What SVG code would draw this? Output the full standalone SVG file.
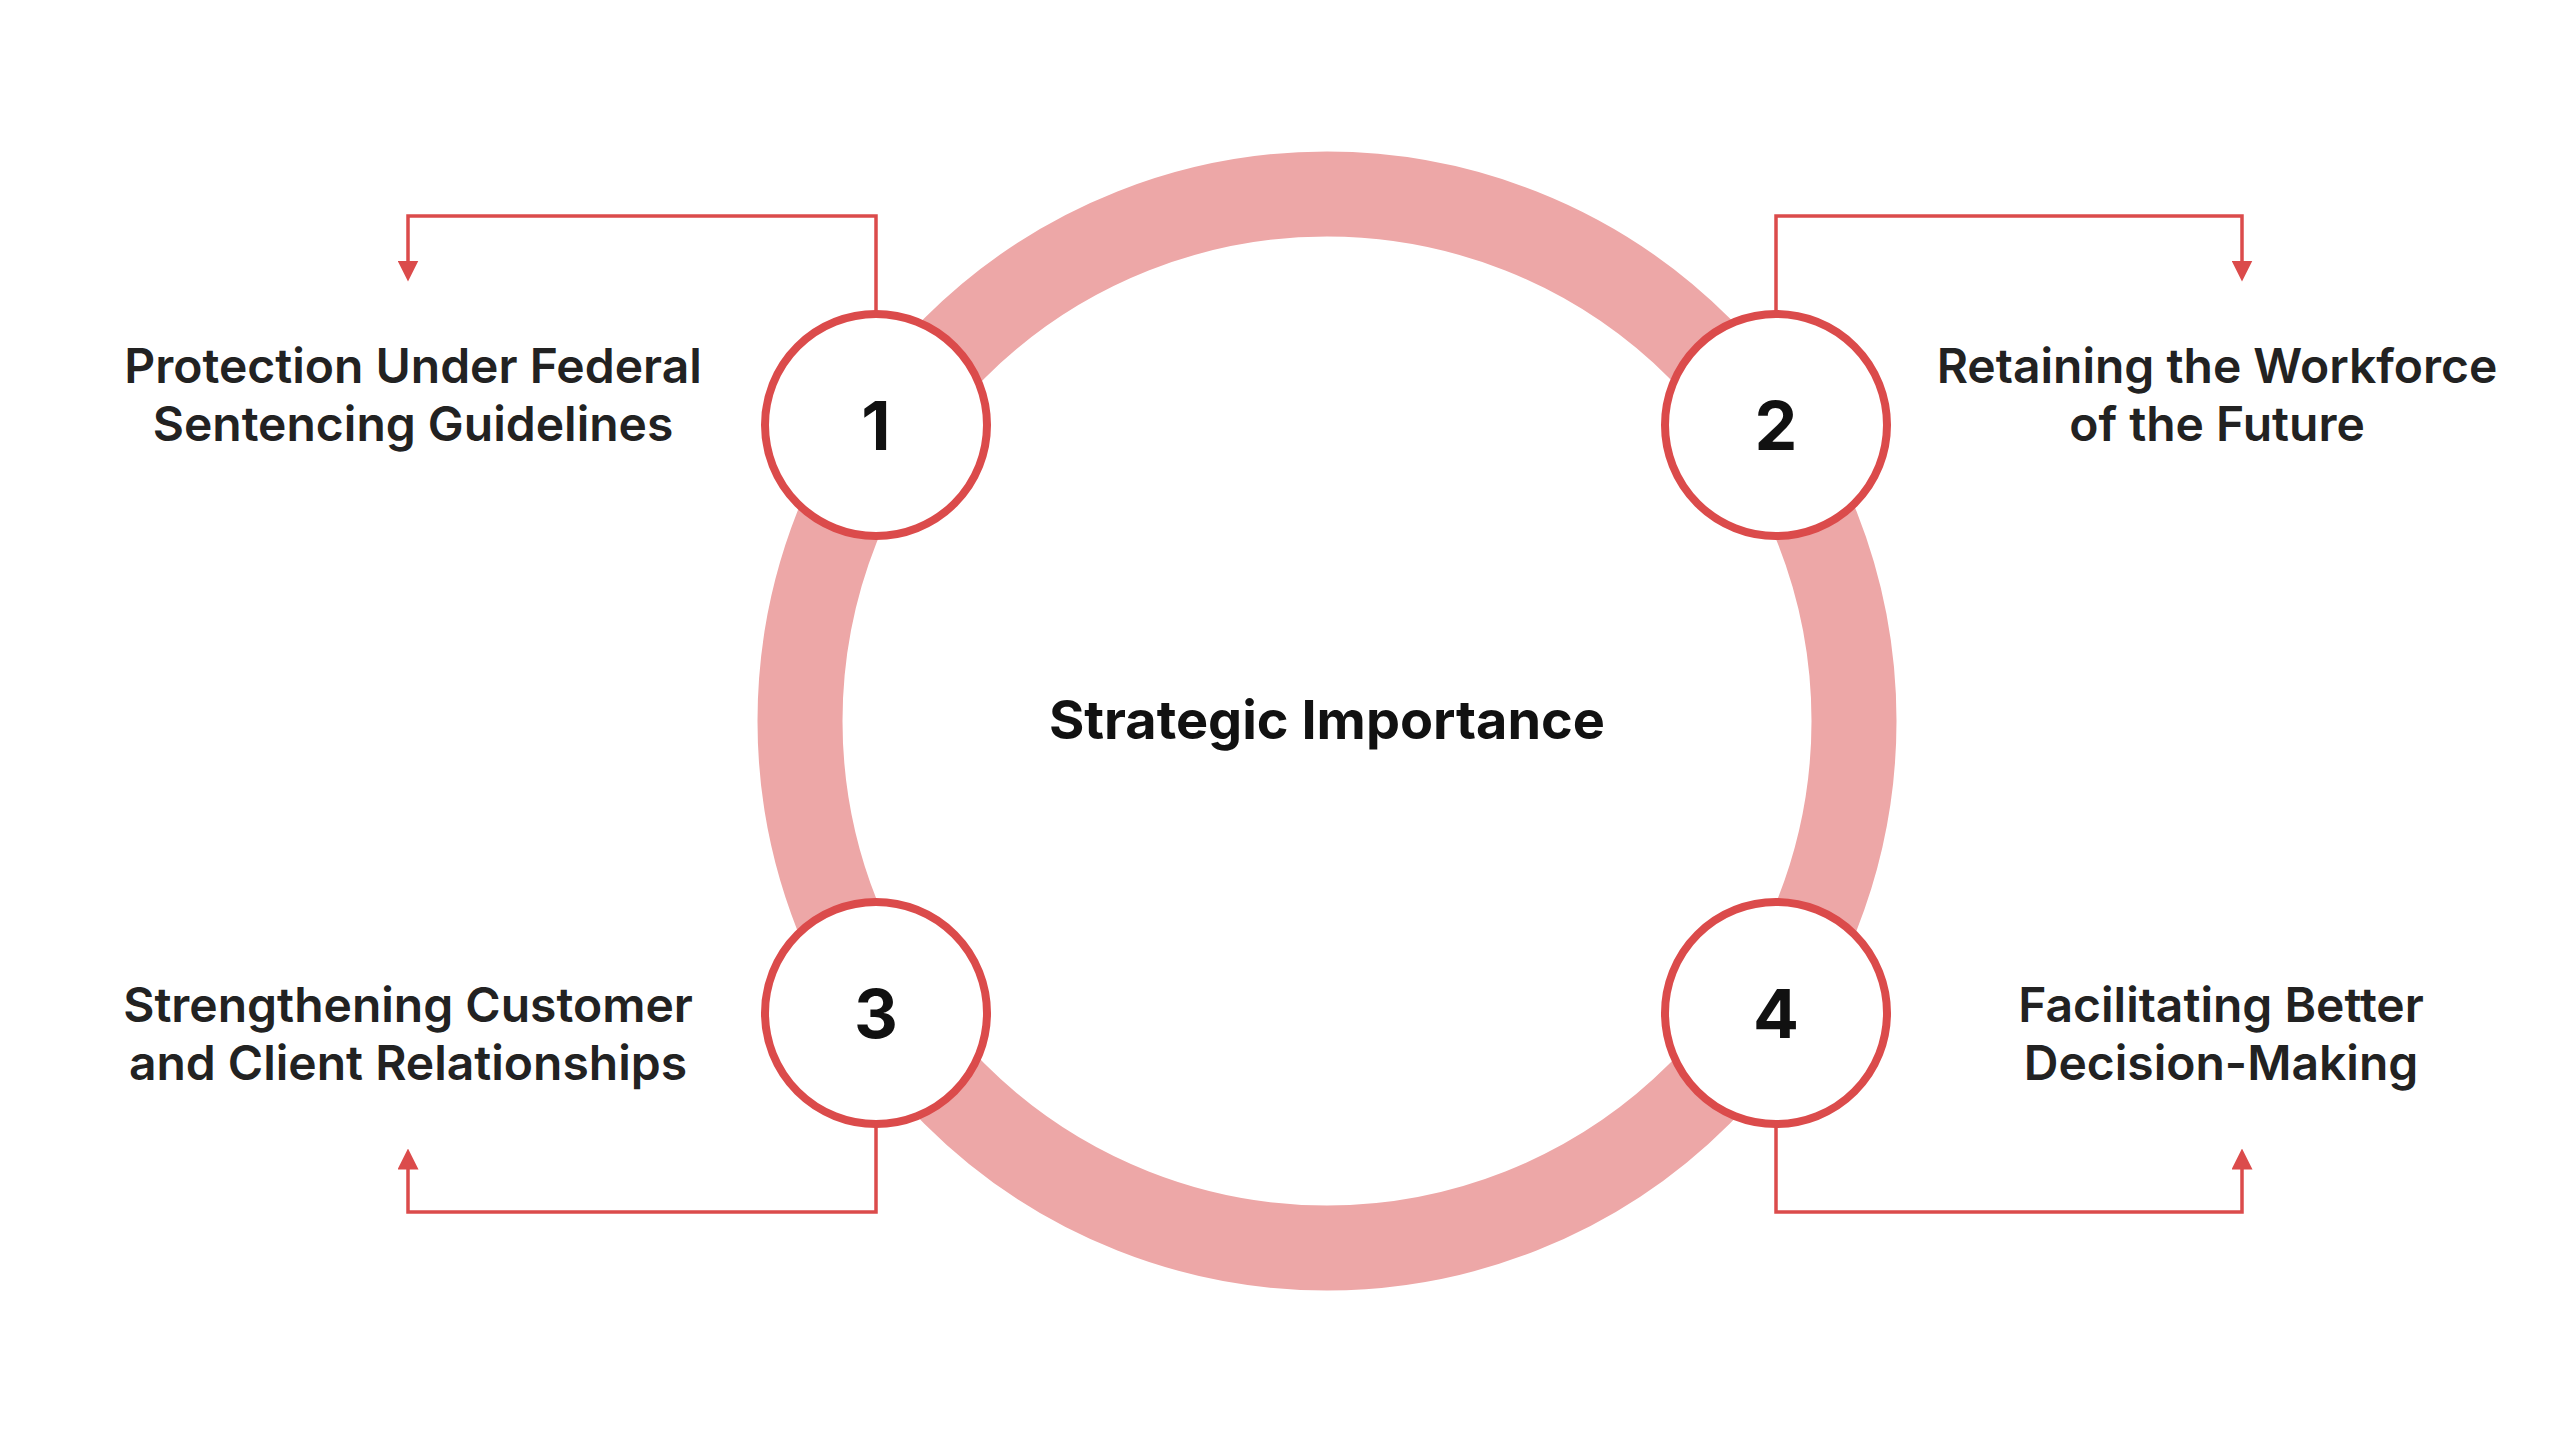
<svg xmlns="http://www.w3.org/2000/svg" width="2560" height="1440" viewBox="0 0 2560 1440">
<style>
.lbl{font-family:Inter,"Liberation Sans",sans-serif;font-size:48px;font-weight:600;fill:#222;text-anchor:middle}
.num{font-family:Inter,"Liberation Sans",sans-serif;font-size:68px;font-weight:700;fill:#111;text-anchor:middle}
.node{fill:#fff;stroke:#DB4B4B;stroke-width:8}
.con{fill:none;stroke:#DB4B4B;stroke-width:3.5}
</style>
<defs><marker id="ar" viewBox="0 0 10 10" refX="5" refY="5" markerWidth="6" markerHeight="6" orient="auto"><path d="M0,0L10,5L0,10z" fill="#DB4B4B"/></marker></defs>
<rect width="2560" height="1440" fill="#fff"/>
<circle cx="1327" cy="721" r="527" fill="none" stroke="#EDA7A7" stroke-width="85"/>
<text x="1327" y="739" font-family="Inter,'Liberation Sans',sans-serif" font-size="54" font-weight="700" fill="#111" text-anchor="middle">Strategic Importance</text>
<g id="connectors">
<path class="con" d="M876,311V216H408V271" marker-end="url(#ar)"/>
<path class="con" d="M1776,311V216H2242V271" marker-end="url(#ar)"/>
<path class="con" d="M876,1127V1212H408V1159" marker-end="url(#ar)"/>
<path class="con" d="M1776,1127V1212H2242V1159" marker-end="url(#ar)"/>
</g>
<g id="n1"><circle class="node" cx="876" cy="425" r="111"/><text class="num" x="876" y="450">1</text>
<text class="lbl" x="413" y="383">Protection Under Federal</text><text class="lbl" x="413" y="441">Sentencing Guidelines</text></g>
<g id="n2"><circle class="node" cx="1776" cy="425" r="111"/><text class="num" x="1776" y="450">2</text>
<text class="lbl" x="2217" y="383">Retaining the Workforce</text><text class="lbl" x="2217" y="441">of the Future</text></g>
<g id="n3"><circle class="node" cx="876" cy="1013" r="111"/><text class="num" x="876" y="1038">3</text>
<text class="lbl" x="408" y="1022">Strengthening Customer</text><text class="lbl" x="408" y="1080">and Client Relationships</text></g>
<g id="n4"><circle class="node" cx="1776" cy="1013" r="111"/><text class="num" x="1776" y="1038">4</text>
<text class="lbl" x="2221" y="1022">Facilitating Better</text><text class="lbl" x="2221" y="1080">Decision-Making</text></g>
</svg>
